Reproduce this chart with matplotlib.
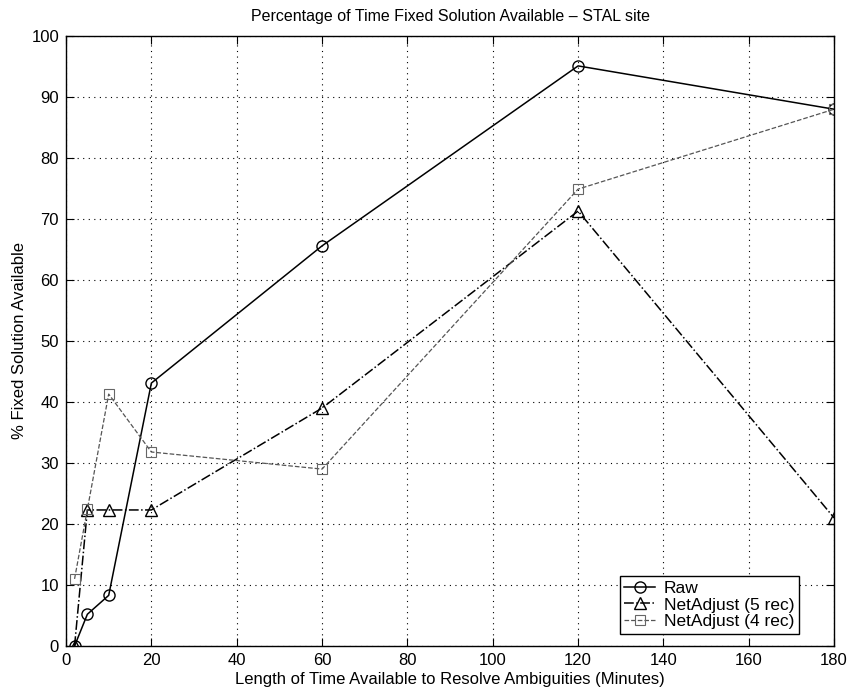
import matplotlib
matplotlib.use('Agg')
import matplotlib.pyplot as plt

plt.rcParams['font.family'] = ['Liberation Sans', 'DejaVu Sans']

# Time available to resolve ambiguities (minutes)
minutes = [2, 5, 10, 20, 60, 120, 180]
raw = [0, 5.2, 8.3, 43.1, 65.6, 95.1, 88.0]
net5 = [0, 22.3, 22.3, 22.3, 39.0, 71.3, 21.0]
net4 = [11.0, 22.4, 41.3, 31.8, 29.0, 74.9, 88.0]

fig = plt.figure(figsize=(8.52, 6.9), dpi=100)
ax = fig.add_axes([0.0775, 0.0638, 0.9015, 0.884])

ax.plot(minutes, raw, '-', color='black', lw=1.1, marker='o', ms=8,
        mfc='none', mec='black', mew=1.0, label='Raw')
ax.plot(minutes, net5, '-.', color='black', lw=1.1, marker='^', ms=9,
        mfc='none', mec='black', mew=1.0, label='NetAdjust (5 rec)')
ax.plot(minutes, net4, '--', color='#555555', lw=0.9, marker='s', ms=7,
        mfc='none', mec='#666666', mew=0.8, label='NetAdjust (4 rec)')

ax.set_xlim(0, 180)
ax.set_ylim(0, 100)
ax.set_xticks(range(0, 181, 20))
ax.set_yticks(range(0, 101, 10))
ax.grid(True, color='black', linestyle=(0, (1, 4)), linewidth=0.8)
ax.tick_params(direction='in', length=6, labelsize=12, pad=5, top=True, right=True,
               labeltop=False, labelright=False)
for s in ax.spines.values():
    s.set_linewidth(1.0)

ax.set_title('Percentage of Time Fixed Solution Available \u2013 STAL site',
             fontsize=11.5, pad=11)
ax.set_xlabel('Length of Time Available to Resolve Ambiguities (Minutes)',
              fontsize=12, labelpad=3)
ax.set_ylabel('% Fixed Solution Available', fontsize=12, labelpad=3)

leg = ax.legend(loc='lower right', bbox_to_anchor=(0.954, 0.02), fontsize=12.5,
                fancybox=False, framealpha=1, edgecolor='black', borderaxespad=0,
                handlelength=1.8, handletextpad=0.5, labelspacing=0.1, borderpad=0.25)
leg.get_frame().set_linewidth(1.0)

fig.savefig('out.png', dpi=100)
